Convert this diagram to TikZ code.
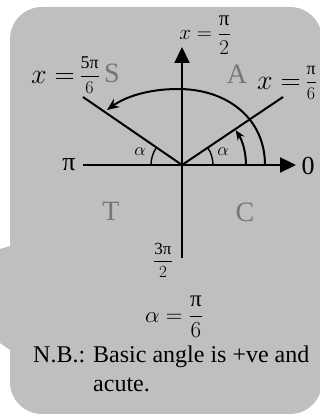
\documentclass[tikz,border=0pt]{standalone}
\usepackage{fix-cm}
\usepackage{amsmath}
\usepackage{fontspec}
\setmainfont{Liberation Serif}
\usetikzlibrary{arrows.meta}
\definecolor{boxgray}{RGB}{191,191,191}
\definecolor{lettergray}{RGB}{118,118,118}
\newcommand{\smallfrac}[2]{\raisebox{2.5pt}{\fontsize{18}{20}\selectfont$\dfrac{\text{#1}}{#2}$}}

\begin{document}
\begin{tikzpicture}[
    x=1pt, y=1pt,
    axis line/.style={line width=2.2pt, -{Triangle[length=16pt, width=15pt]}},
    ray line/.style={line width=2pt},
    turn arc/.style={line width=2pt},
    alpha arc/.style={line width=1.4pt},
    axis label/.style={font=\fontsize{26}{28}\selectfont, inner sep=0pt},
    angle label/.style={font=\fontsize{28}{30}\selectfont, inner sep=0pt, anchor=west},
    quadrant letter/.style={text=lettergray, font=\fontsize{28}{30}\selectfont, inner sep=0pt},
    note text/.style={font=\fontsize{24}{29}\selectfont, inner sep=0pt, anchor=base west},
]

\useasboundingbox (0,0) rectangle (320,416);

% Nền hộp chú thích (callout)
\fill[boxgray, rounded corners=32pt] (10,2) rectangle (322,409);
\fill[boxgray] (12,170.6) -- (-10,164) -- (-10,80) -- (12,64.6) -- cycle;

% Các điểm mốc
\coordinate (O) at (182,251);
\coordinate (west end) at (83,251);
\coordinate (east end) at (296,251);
\coordinate (north end) at (182,369);
\coordinate (south end) at (182,158);
\coordinate (ray-5pi6) at (83,319);
\coordinate (ray-pi6) at (283,319);
\coordinate (big-start) at (265,251);
\coordinate (big-top) at (178,327);
\coordinate (big-end) at (107,306);
\coordinate (small-start) at (246,251);

% Hai trục
\draw[axis line] (west end) -- (east end);
\draw[axis line] (south end) -- (north end);

% Hai tia góc
\draw[ray line] (O) -- (ray-5pi6);
\draw[ray line] (O) -- (ray-pi6);

% Cung quay
\draw[turn arc, -{Stealth[length=12pt, width=10pt]}] (big-start)
    .. controls (265,297) and (228,327) .. (big-top)
    .. controls (148,327) and (125,319) .. (big-end);
\draw[turn arc, -{Stealth[length=10pt, width=8pt]}] (small-start)
    arc[start angle=0, end angle=33, radius=64];

% Cung góc alpha
\draw[alpha arc] (213,251) arc[start angle=0, end angle=34, radius=31];
\draw[alpha arc] (151,251) arc[start angle=180, end angle=146, radius=31];
\node[font=\fontsize{18}{20}\selectfont] (alpha-right) at (223,264) {$\alpha$};
\node[font=\fontsize{18}{20}\selectfont] (alpha-left) at (140,264) {$\alpha$};

% Nhãn trục
\node[axis label] (lbl-pi) at (69,251) {π};
\node[axis label] (lbl-zero) at (308,250) {0};
\node[font=\fontsize{21}{23}\selectfont, inner sep=0pt] (lbl-pi2) at (205,381) {$x=\dfrac{\text{π}}{2}$};
\node[font=\fontsize{17}{19}\selectfont, inner sep=0pt] (lbl-3pi2) at (163,156) {$\dfrac{\text{3π}}{2}$};
\node[angle label] (lbl-5pi6) at (31,341) {$x=$\,\smallfrac{5π}{6}};
\node[angle label] (lbl-pi6) at (257,333) {$x=$\,\smallfrac{π}{6}};

% Chữ cái góc phần tư
\foreach \q/\qx/\qy in {S/112/343, A/237/342, T/111/205, C/245/204} {
    \node[quadrant letter] (quad-\q) at (\qx,\qy) {\q};
}

% Góc cơ bản và ghi chú
\node[font=\fontsize{23}{25}\selectfont, inner sep=0pt] (lbl-alpha) at (174,99) {$\alpha=\dfrac{\text{π}}{6}$};
\node[note text] (note-1) at (33,53) {N.B.: Basic angle is +ve and};
\node[note text] (note-2) at (33,24) {\phantom{N.B.: }acute.};

\end{tikzpicture}
\end{document}
